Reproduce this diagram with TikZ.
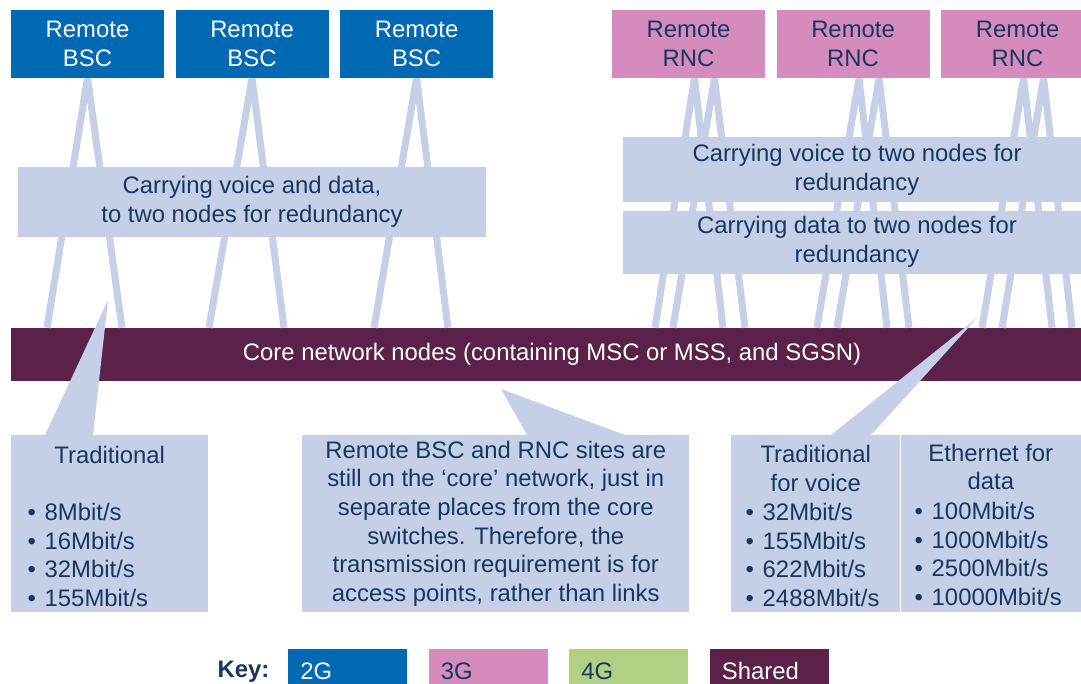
\documentclass[tikz,border=0pt]{standalone}
\usepackage{fontspec}
\setmainfont{Liberation Sans}
\usetikzlibrary{positioning}
\usetikzlibrary{calc}
\definecolor{gtwo}{RGB}{0,105,180}
\definecolor{gthree}{RGB}{214,139,190}
\definecolor{gfour}{RGB}{178,208,132}
\definecolor{shared}{RGB}{91,33,73}
\definecolor{pale}{RGB}{197,208,232}
\definecolor{ink}{RGB}{23,55,94}
\newcommand{\itm}[1]{\makebox[12.75pt][l]{•}#1}
\tikzset{
site/.style={
  rectangle,
  inner sep=0pt,
  minimum width=114.75pt,
  minimum height=51pt,
  align=center
  },
bsc/.style={site,fill=gtwo,text=white},
rnc/.style={site,fill=gthree,text=ink},
note/.style={
  rectangle,
  inner sep=0pt,
  fill=pale,
  text=ink,
  align=center
  },
link/.style={draw=pale,line width=5.25pt},
keybox/.style={
  rectangle,
  inner xsep=9pt,
  inner ysep=0pt,
  minimum height=33pt,
  text width=71.25pt,
  align=left
  }
}

\begin{document}
\begin{tikzpicture}[x=0.75pt,y=-0.75pt,every node/.style={font=\fontsize{17.9pt}{21.5pt}\selectfont}]
            \useasboundingbox (0,0) rectangle (1081,684);
            \clip (0,0) rectangle (1081,684);
            \fill[white] (0,0) rectangle (1081,684);
            % remote sites
            \node[bsc] (bsc1) at (87.5,44) {Remote\\BSC};
            \node[bsc] (bsc2) [right=8.25pt of bsc1] {Remote\\BSC};
            \node[bsc] (bsc3) [right=8.25pt of bsc2] {Remote\\BSC};
            \node[rnc] (rnc1) at (688.5,44) {Remote\\RNC};
            \node[rnc] (rnc2) [right=8.25pt of rnc1] {Remote\\RNC};
            \node[rnc] (rnc3) [right=8.25pt of rnc2] {Remote\\RNC};
            \node[note,fill=shared,text=white,minimum width=811.5pt,minimum height=39.75pt] (core) at (552,354.5) {Core network nodes (containing MSC or MSS, and SGSN)};
            % links down to the core
            \foreach \n/\a/\b in {bsc1/47/122,bsc2/209/284,bsc3/374/448}
              \draw[link] (\n.south) -- (\a,0 |- core.north) (\n.south) -- (\b,0 |- core.north);
            \foreach \n/\a/\b/\c/\d in {rnc1/655/723/673/745,rnc2/817/887/837/909,rnc3/982/1052/1002/1072}
              \draw[link] ($(\n.south)+(6,0)$) -- (\a,0 |- core.north) ($(\n.south)+(6,0)$) -- (\b,0 |- core.north)
                          ($(\n.south)+(26,0)$) -- (\c,0 |- core.north) ($(\n.south)+(26,0)$) -- (\d,0 |- core.north);
            \node[note,minimum width=351pt,minimum height=52.5pt] (both) at (252,202) {Carrying voice and data,\\to two nodes for redundancy};
            \node[note,minimum width=351pt,minimum height=48.75pt] (voice) at (857,169.5) {Carrying voice to two nodes for\\redundancy};
            \node[note,minimum width=351pt,minimum height=47.25pt] (data) [below=6pt of voice] {Carrying data to two nodes for\\redundancy};
            % transmission boxes
            \node[note,minimum width=147.75pt,minimum height=132.75pt,anchor=north west] (trad) at (11,435) {};
            \node[note,minimum width=290.25pt,minimum height=132.75pt,anchor=north west] (remark) at (302,435) {Remote BSC and RNC sites are\\still on the ‘core’ network, just in\\separate places from the core\\switches. Therefore, the\\transmission requirement is for\\access points, rather than links};
            \node[note,minimum width=126.75pt,minimum height=132.75pt,anchor=north west] (tradv) at (731,435) {};
            \node[note,minimum width=135pt,minimum height=132.75pt] (eth) [right=0pt of tradv] {};
            \draw[white,line width=0.6pt] (tradv.north east) -- (tradv.south east);
            \fill[pale] (108,300) -- ($(trad.north west)+(34,0)$) -- ($(trad.north west)+(82,0)$) -- cycle;
            \fill[pale] (501,389) -- ($(remark.north west)+(225,0)$) -- ($(remark.north west)+(323,0)$) -- cycle;
            \fill[pale] (977,318) -- ($(tradv.north west)+(100,0)$) -- ($(tradv.north west)+(140,0)$) -- cycle;
            \node[text=ink] (tradhd) at (trad.north |- 0,455) {Traditional};
            \node[text=ink,align=left,anchor=west] (tradls) at (23,555) {\itm{8Mbit/s}\\\itm{16Mbit/s}\\\itm{32Mbit/s}\\\itm{155Mbit/s}};
            \node[text=ink,align=center] (tradvhd) at (tradv.north |- 0,468.5) {Traditional\\for voice};
            \node[text=ink,align=left,anchor=west] (tradvls) at (741,555) {\itm{32Mbit/s}\\\itm{155Mbit/s}\\\itm{622Mbit/s}\\\itm{2488Mbit/s}};
            \node[text=ink,align=center] (ethhd) at (eth.north |- 0,467) {Ethernet for\\data};
            \node[text=ink,align=left,anchor=west] (ethls) at (910,554) {\itm{100Mbit/s}\\\itm{1000Mbit/s}\\\itm{2500Mbit/s}\\\itm{10000Mbit/s}};
            % key
            \node[keybox,fill=gtwo,text=white,anchor=north west] (k2g) at (288,649) {2G};
            \node[keybox,fill=gthree,text=ink] (k3g) [right=15.75pt of k2g] {3G};
            \node[keybox,fill=gfour,text=ink] (k4g) [right=15.75pt of k3g] {4G};
            \node[keybox,fill=shared,text=white] (kshared) [right=15.75pt of k4g] {Shared};
            \node[text=ink,font=\fontsize{17.9pt}{21.5pt}\selectfont\bfseries] (key) [left=10.5pt of k2g] {Key:};
        \end{tikzpicture}
\end{document}
